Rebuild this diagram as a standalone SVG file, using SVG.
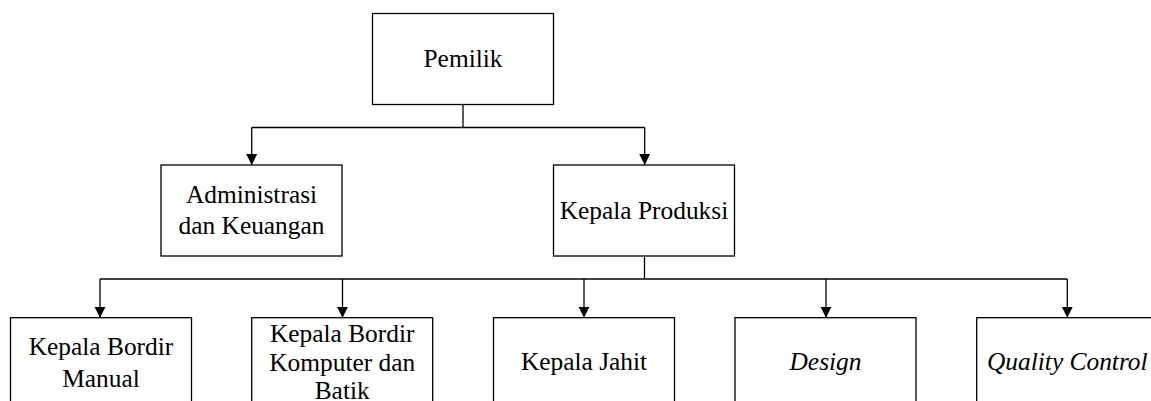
<svg xmlns="http://www.w3.org/2000/svg" width="1151" height="401" viewBox="0 0 1151 401">
<style>
.box{fill:#fff;stroke:#000;stroke-width:1.3}
.t{font-family:"Liberation Serif","Times New Roman",serif;font-size:25.4px;fill:#000;text-anchor:middle}
.i{font-style:italic}
.c{fill:none;stroke:#000;stroke-width:1.3}
</style>
<defs>
<marker id="ah" markerUnits="userSpaceOnUse" markerWidth="12" markerHeight="12" refX="11" refY="6" orient="auto">
<path d="M0,0.5 L11,6 L0,11.5 Z" fill="#000"/>
</marker>
</defs>
<rect width="1151" height="401" fill="#fff"/>
<g id="connectors">
<path class="c" d="M463,104.3 V127.5"/>
<path class="c" d="M251.7,127.5 H644.7"/>
<path class="c" d="M251.7,127.5 V165" marker-end="url(#ah)"/>
<path class="c" d="M644.7,127.5 V165" marker-end="url(#ah)"/>
<path class="c" d="M644.5,256 V279"/>
<path class="c" d="M100,279 H1067.3"/>
<path class="c" d="M100,279 V317.7" marker-end="url(#ah)"/>
<path class="c" d="M342.5,279 V317.7" marker-end="url(#ah)"/>
<path class="c" d="M584,279 V317.7" marker-end="url(#ah)"/>
<path class="c" d="M826,279 V317.7" marker-end="url(#ah)"/>
<path class="c" d="M1067.3,279 V317.7" marker-end="url(#ah)"/>
</g>
<g id="pemilik">
<rect class="box" x="372.5" y="13.5" width="181" height="91"/>
<text class="t" x="463" y="67">Pemilik</text>
</g>
<g id="administrasi">
<rect class="box" x="161" y="165" width="181" height="91"/>
<text class="t" x="251.5" y="203">Administrasi</text>
<text class="t" x="251.5" y="233.5">dan Keuangan</text>
</g>
<g id="kepala-produksi">
<rect class="box" x="553.5" y="165" width="181" height="91"/>
<text class="t" x="644" y="218.5">Kepala Produksi</text>
</g>
<g id="kepala-bordir-manual">
<rect class="box" x="10.5" y="317.7" width="181" height="91"/>
<text class="t" x="101" y="355">Kepala Bordir</text>
<text class="t" x="101" y="386.5">Manual</text>
</g>
<g id="kepala-bordir-komputer">
<rect class="box" x="251.7" y="317.7" width="181" height="91"/>
<text class="t" x="342.2" y="341.5">Kepala Bordir</text>
<text class="t" x="342.2" y="371">Komputer dan</text>
<text class="t" x="342.2" y="398.5">Batik</text>
</g>
<g id="kepala-jahit">
<rect class="box" x="493.5" y="317.7" width="181" height="91"/>
<text class="t" x="584" y="370">Kepala Jahit</text>
</g>
<g id="design">
<rect class="box" x="735" y="317.7" width="181" height="91"/>
<text class="t i" x="825.5" y="370">Design</text>
</g>
<g id="quality-control">
<rect class="box" x="976.7" y="317.7" width="181" height="91"/>
<text class="t i" x="1067.3" y="370">Quality Control</text>
</g>
</svg>
